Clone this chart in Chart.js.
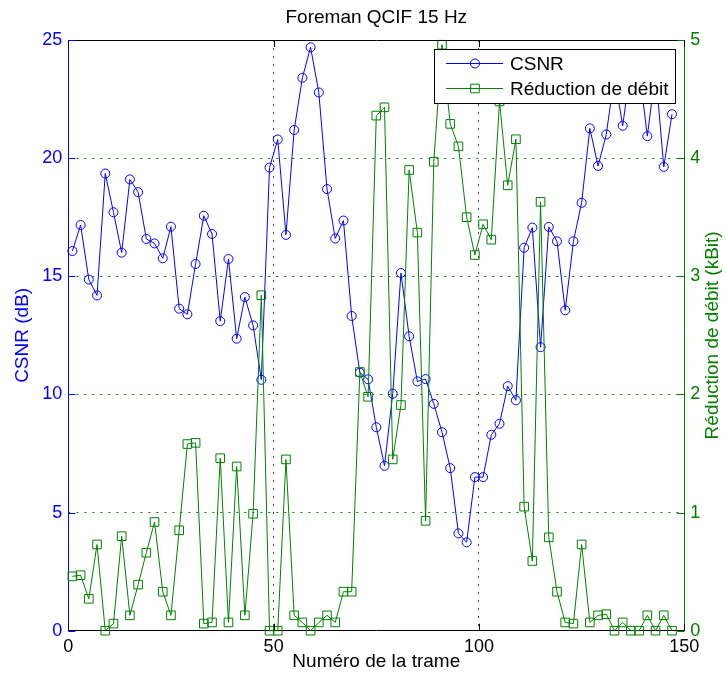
<!DOCTYPE html>
<html>
<head>
<meta charset="utf-8">
<script src="https://cdn.jsdelivr.net/npm/chart.js@4"></script>
<style>
html,body{margin:0;padding:0;background:#fff}
#wrap{width:726px;height:681px}
</style>
</head>
<body>
<div id="wrap"><canvas id="c" width="726" height="681"></canvas></div>
<script>
// frame numbers (x)
const frames=[1,3,5,7,9,11,13,15,17,19,21,23,25,27,29,31,33,35,37,39,41,43,45,47,49,
  51,53,55,57,59,61,63,65,67,69,71,73,75,77,79,81,83,85,87,89,91,93,95,97,99,
  101,103,105,107,109,111,113,115,117,119,121,123,125,127,129,131,133,135,137,139,141,143,145,147];
// CSNR (dB), left axis
const csnr=[16.07,17.17,14.86,14.19,19.35,17.71,16.0,19.1,18.56,16.58,
  16.39,15.76,17.1,13.63,13.39,15.52,17.56,16.79,13.1,15.73,
  12.36,14.12,12.92,10.62,19.6,20.79,16.75,21.19,23.4,24.69,
  22.78,18.69,16.6,17.36,13.32,10.92,10.64,8.61,6.98,10.03,
  15.14,12.46,10.55,10.65,9.6,8.4,6.88,4.12,3.74,6.5,
  6.5,8.29,8.76,10.35,9.75,16.21,17.06,12.0,17.09,16.48,
  13.56,16.48,18.11,21.26,19.67,21.0,23.5,21.37,23.9,23.8,
  20.93,23.7,19.63,21.86];
// Reduction de debit (kBit), right axis
const debit=[0.46,0.47,0.27,0.73,0,0.06,0.8,0.13,0.39,0.66,
  0.92,0.33,0.13,0.85,1.58,1.59,0.06,0.07,1.46,0.07,
  1.39,0.13,0.99,2.84,0,0,1.45,0.13,0.07,0,
  0.07,0.13,0.07,0.33,0.33,2.19,1.98,4.36,4.43,1.45,
  1.91,3.9,3.37,0.93,3.97,4.96,4.29,4.1,3.5,3.18,
  3.44,3.31,4.48,3.77,4.16,1.05,0.59,3.63,0.79,0.33,
  0.07,0.06,0.73,0.07,0.13,0.14,0,0.07,0,0,
  0.13,0,0.13,0];
const xTicks=[0,50,100,150];
const yTicks=[0,5,10,15,20,25];
const y1Ticks=[0,1,2,3,4,5];

const FONT="'Liberation Sans', Arial, Helvetica, sans-serif";
const BLUE='#0000ff', GREEN='#008000';

// title, top border, inward ticks, right label and legend
const frame={id:'frame',afterDraw(chart){
  const ctx=chart.ctx, a=chart.chartArea, sx=chart.scales.x, sy=chart.scales.y, sy1=chart.scales.y1;
  ctx.save();
  ctx.fillStyle='#000';ctx.font='19px '+FONT;ctx.textAlign='center';ctx.textBaseline='middle';
  ctx.fillText('Foreman QCIF 15 Hz',(a.left+a.right)/2,18);

  ctx.lineWidth=1;
  ctx.strokeStyle='#000';
  ctx.beginPath();ctx.moveTo(a.left,a.top+0.5);ctx.lineTo(a.right,a.top+0.5);ctx.stroke();
  const T=7;
  ctx.beginPath();
  xTicks.forEach(v=>{const p=Math.round(sx.getPixelForValue(v))+0.5;
    ctx.moveTo(p,a.bottom);ctx.lineTo(p,a.bottom-T);ctx.moveTo(p,a.top);ctx.lineTo(p,a.top+T);});
  ctx.stroke();
  ctx.strokeStyle=BLUE;ctx.beginPath();
  yTicks.forEach(v=>{const p=Math.round(sy.getPixelForValue(v))+0.5;ctx.moveTo(a.left,p);ctx.lineTo(a.left+T,p);});
  ctx.stroke();
  ctx.strokeStyle=GREEN;ctx.beginPath();
  y1Ticks.forEach(v=>{const p=Math.round(sy1.getPixelForValue(v))+0.5;ctx.moveTo(a.right,p);ctx.lineTo(a.right-T,p);});
  ctx.stroke();

  // right axis title, reading bottom to top
  ctx.save();
  ctx.translate(713,(a.top+a.bottom)/2);ctx.rotate(-Math.PI/2);
  ctx.fillStyle=GREEN;ctx.font='19px '+FONT;ctx.textAlign='center';ctx.textBaseline='middle';
  ctx.fillText('Réduction de débit (kBit)',0,0);
  ctx.restore();

  // legend
  const L={x:a.right-250.3,y:a.top+9,w:241,h:54};
  ctx.fillStyle='#fff';ctx.fillRect(L.x,L.y,L.w,L.h);
  ctx.strokeStyle='#000';ctx.strokeRect(Math.round(L.x)+0.5,Math.round(L.y)+0.5,L.w,L.h);
  const rows=[{t:'CSNR',c:BLUE,s:'circle',y:L.y+14.5},{t:'Réduction de débit',c:GREEN,s:'rect',y:L.y+39.5}];
  ctx.font='19px '+FONT;ctx.textAlign='left';ctx.textBaseline='middle';
  rows.forEach(r=>{
    ctx.strokeStyle=r.c;ctx.beginPath();ctx.moveTo(L.x+12,r.y);ctx.lineTo(L.x+69,r.y);ctx.stroke();
    const mx=L.x+41;
    ctx.beginPath();
    if(r.s==='circle')ctx.arc(mx,r.y,4.5,0,Math.PI*2);else ctx.rect(mx-4.3,r.y-4.3,8.6,8.6);
    ctx.stroke();
    ctx.fillStyle='#000';ctx.fillText(r.t,L.x+76,r.y+1);
  });
  ctx.restore();
}};

new Chart(document.getElementById('c'),{type:'line',
  data:{datasets:[
    {label:'CSNR',data:frames.map((f,i)=>({x:f,y:csnr[i]})),yAxisID:'y',
      borderColor:BLUE,borderWidth:1,pointStyle:'circle',pointRadius:4.5,pointBorderWidth:1,
      pointBorderColor:BLUE,pointBackgroundColor:'rgba(0,0,0,0)',tension:0,clip:false,order:1},
    {label:'Réduction de débit',data:frames.map((f,i)=>({x:f,y:debit[i]})),yAxisID:'y1',
      borderColor:GREEN,borderWidth:1,pointStyle:'rect',pointRadius:6.1,pointBorderWidth:1,
      pointBorderColor:GREEN,pointBackgroundColor:'rgba(0,0,0,0)',tension:0,clip:false,order:0}
  ]},
  options:{responsive:false,animation:false,devicePixelRatio:1,
    layout:{padding:{top:40}},
    plugins:{legend:{display:false},tooltip:{enabled:false},title:{display:false}},
    scales:{
      x:{type:'linear',min:0,max:150,
        afterBuildTicks:s=>{s.ticks=xTicks.map(v=>({value:v}));},
        afterFit:s=>{s.height=50.3;},
        ticks:{color:'#000',font:{family:FONT,size:18},padding:6,maxRotation:0},
        grid:{drawTicks:false,lineWidth:1,color:c=>(c.tick&&c.tick.value>0&&c.tick.value<150)?'#444':'rgba(0,0,0,0)'},
        border:{color:'#000',width:1,dash:[2,6]},
        title:{display:true,text:'Numéro de la trame',color:'#000',font:{family:FONT,size:19},padding:{top:0,bottom:8}}},
      y:{type:'linear',position:'left',min:0,max:25,
        afterBuildTicks:s=>{s.ticks=yTicks.map(v=>({value:v}));},
        afterFit:s=>{s.width=68.3;},
        ticks:{color:BLUE,font:{family:FONT,size:18},padding:6},
        grid:{drawOnChartArea:false,drawTicks:false},
        border:{color:BLUE,width:1},
        title:{display:true,text:'CSNR (dB)',color:BLUE,font:{family:FONT,size:19},padding:{top:11,bottom:0}}},
      y1:{type:'linear',position:'right',min:0,max:5,
        afterBuildTicks:s=>{s.ticks=y1Ticks.map(v=>({value:v}));},
        afterFit:s=>{s.width=41.7;},
        ticks:{color:GREEN,font:{family:FONT,size:18},padding:6},
        grid:{drawTicks:false,lineWidth:1,color:c=>(c.tick&&c.tick.value>0&&c.tick.value<5)?GREEN:'rgba(0,0,0,0)'},
        border:{color:GREEN,width:1,dash:[2,6]}}
    }},
  plugins:[frame]
});
</script>
</body>
</html>
